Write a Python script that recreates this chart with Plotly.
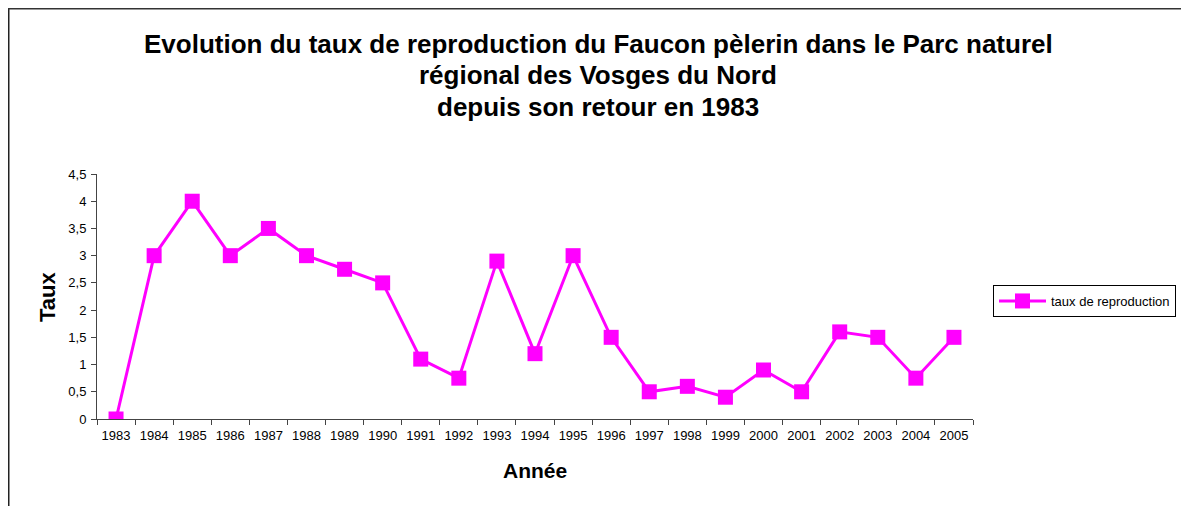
import plotly.graph_objects as go

years = [str(y) for y in range(1983, 2006)]
taux = [0, 3, 4, 3, 3.5, 3, 2.75, 2.5, 1.1, 0.75, 2.9, 1.2, 3, 1.5, 0.5, 0.6, 0.4, 0.9, 0.5, 1.6, 1.5, 0.75, 1.5]
y_ticks = [0, 0.5, 1, 1.5, 2, 2.5, 3, 3.5, 4, 4.5]
title_lines = [
    "Evolution du taux de reproduction du Faucon pèlerin dans le Parc naturel",
    "régional des Vosges du Nord",
    "depuis son retour en 1983",
]

# page has an 8px body margin; figure coords = page coords - 8
W, H = 1181, 498
L, R, T, B = 89, 216, 166, 87
pw, ph = W - L - R, H - T - B

def px_x(x):
    return (x - L) / pw

def px_y(y):
    return (H - B - y) / ph

fig = go.Figure()
fig.add_trace(go.Scatter(
    x=years, y=taux, mode="lines+markers", name="taux de reproduction",
    line=dict(color="#FF00FF", width=3),
    marker=dict(symbol="square", size=15, color="#FF00FF"),
))

annotations = []
for t, yc in zip(title_lines, [36, 67, 99]):
    annotations.append(dict(
        text="<b>%s</b>" % t, xref="paper", yref="paper",
        x=px_x(590), y=px_y(yc), xanchor="center", yanchor="middle",
        showarrow=False, font=dict(family="Liberation Sans, Arial", size=26, color="black"),
    ))
annotations.append(dict(
    text="<b>Taux</b>", xref="paper", yref="paper", x=px_x(39), y=px_y(289),
    xanchor="center", yanchor="middle", textangle=-90, showarrow=False,
    font=dict(family="Liberation Sans, Arial", size=22, color="black"),
))
annotations.append(dict(
    text="<b>Année</b>", xref="paper", yref="paper", x=px_x(527), y=px_y(462),
    xanchor="center", yanchor="middle", showarrow=False,
    font=dict(family="Liberation Sans, Arial", size=21, color="black"),
))

shapes = [
    dict(type="line", xref="paper", yref="paper", x0=px_x(0.5), x1=px_x(0.5), y0=px_y(520), y1=px_y(0),
         line=dict(color="#222222", width=2)),
    dict(type="line", xref="paper", yref="paper", x0=px_x(0), x1=px_x(1200), y0=px_y(0.5), y1=px_y(0.5),
         line=dict(color="#333333", width=2)),
]

fig.update_layout(
    width=W, height=H,
    margin=dict(l=L, r=R, t=T, b=B, pad=0),
    paper_bgcolor="white", plot_bgcolor="white",
    separators=", ",
    font=dict(family="Liberation Sans, Arial", size=13, color="black"),
    annotations=annotations,
    shapes=shapes,
    showlegend=True,
    legend=dict(
        x=px_x(985), y=px_y(277), xanchor="left", yanchor="top",
        bordercolor="black", borderwidth=1, bgcolor="white",
        font=dict(size=13, color="black"), itemwidth=47,
    ),
    xaxis=dict(
        type="category", tickson="boundaries", ticks="outside", ticklen=5,
        tickcolor="#444444", showline=True, linecolor="#444444", linewidth=1,
        showgrid=False, zeroline=False, range=[-0.5, 22.5],
        tickfont=dict(size=13), ticklabelstandoff=4,
    ),
    yaxis=dict(
        range=[0, 4.5], tickvals=y_ticks, ticks="outside", ticklen=5,
        tickcolor="#444444", showline=True, linecolor="#444444", linewidth=1,
        showgrid=False, zeroline=False,
        tickfont=dict(size=13), ticklabelstandoff=2,
    ),
)

fig.write_html("out.html")
